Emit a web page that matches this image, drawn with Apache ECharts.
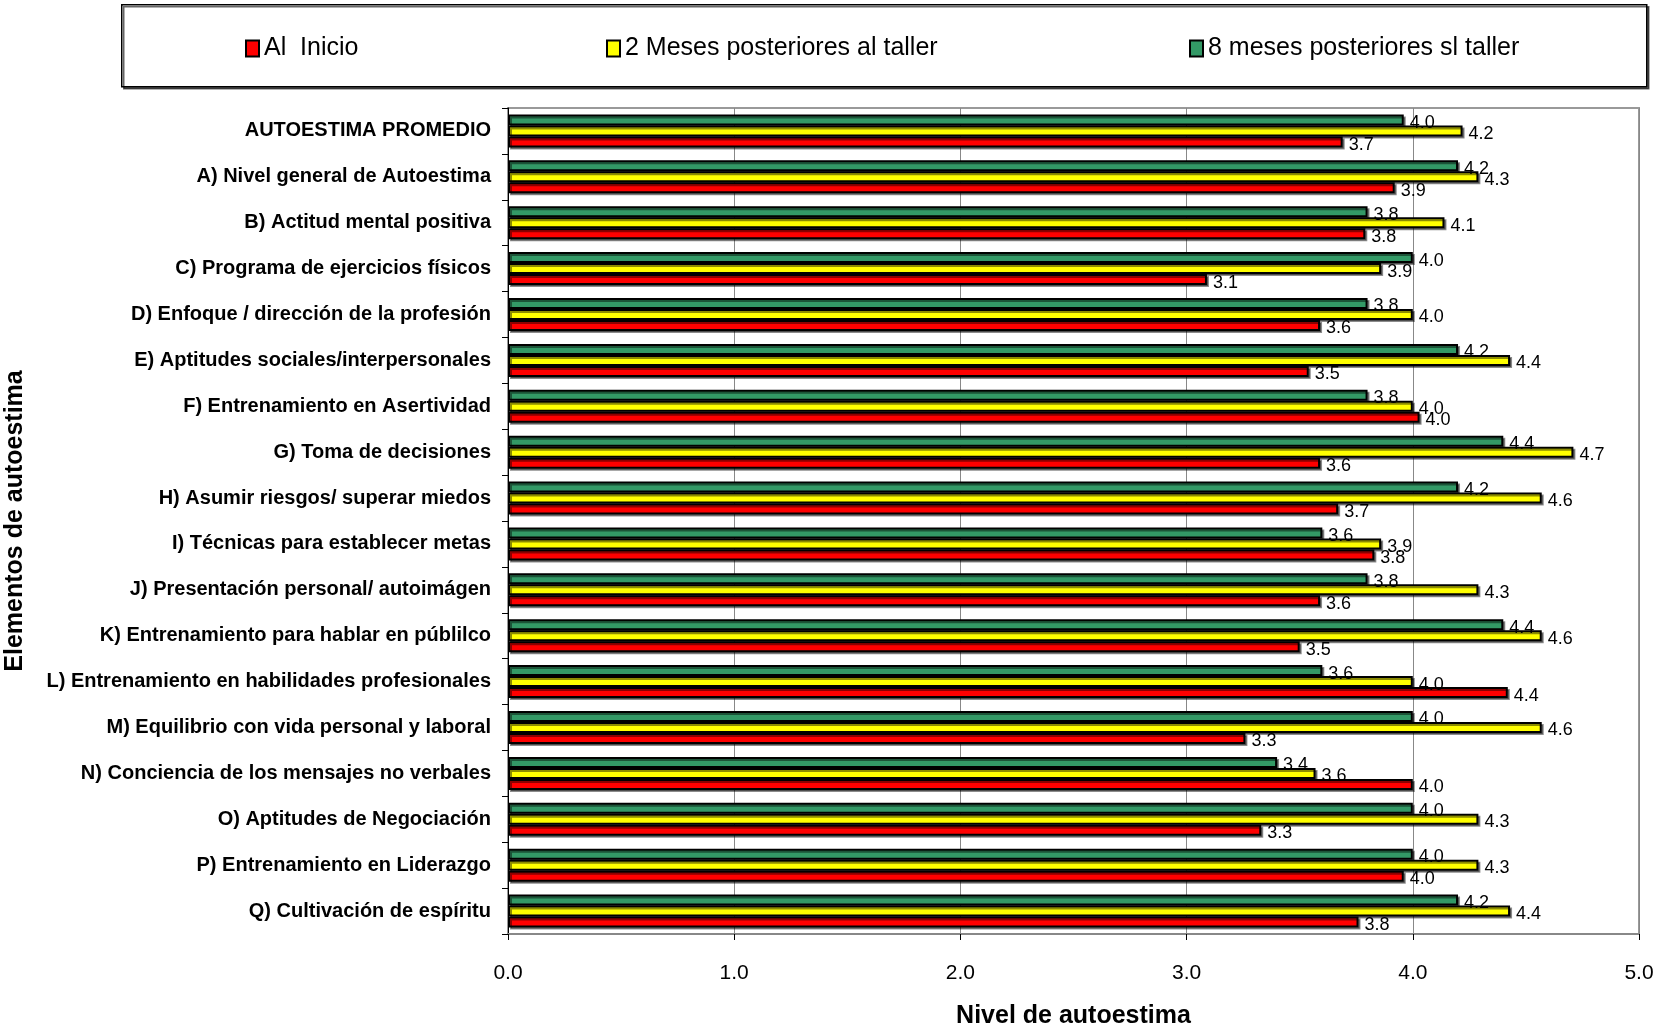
<!DOCTYPE html>
<html>
<head>
<meta charset="utf-8">
<script src="https://cdn.jsdelivr.net/npm/echarts@6/dist/echarts.min.js"></script>
<style>html,body{margin:0;padding:0;background:#fff;}#c{width:1659px;height:1029px;}</style>
</head>
<body>
<div id="c"></div>
<script>
const categories = [
  'AUTOESTIMA PROMEDIO',
  'A) Nivel general de Autoestima',
  'B) Actitud mental positiva',
  'C) Programa de ejercicios físicos',
  'D) Enfoque / dirección de la profesión',
  'E) Aptitudes sociales/interpersonales',
  'F) Entrenamiento en Asertividad',
  'G) Toma de decisiones',
  'H) Asumir riesgos/ superar miedos',
  'I) Técnicas para establecer metas',
  'J) Presentación personal/ autoimágen',
  'K) Entrenamiento para hablar en públilco',
  'L) Entrenamiento en habilidades profesionales',
  'M) Equilibrio con vida personal y laboral',
  'N) Conciencia de los mensajes no verbales',
  'O) Aptitudes de Negociación',
  'P) Entrenamiento en Liderazgo',
  'Q) Cultivación de espíritu'
];
const seriesNames = ['Al  Inicio', '2 Meses posteriores al taller', '8 meses posteriores sl taller'];
const alInicio  = [3.69, 3.92, 3.79, 3.09, 3.59, 3.54, 4.03, 3.59, 3.67, 3.83, 3.59, 3.50, 4.42, 3.26, 4.00, 3.33, 3.96, 3.76];
const dosMeses  = [4.22, 4.29, 4.14, 3.86, 4.00, 4.43, 4.00, 4.71, 4.57, 3.86, 4.29, 4.57, 4.00, 4.57, 3.57, 4.29, 4.29, 4.43];
const ochoMeses = [3.96, 4.20, 3.80, 4.00, 3.80, 4.20, 3.80, 4.40, 4.20, 3.60, 3.80, 4.40, 3.60, 4.00, 3.40, 4.00, 4.00, 4.20];
const xTicks = [0, 1, 2, 3, 4, 5];

const FONT = 'Arial, "Liberation Sans", sans-serif';
const chart = echarts.init(document.getElementById('c'), null, {renderer: 'canvas'});

function barSeries(name, data, color) {
  return {
    name: name,
    type: 'bar',
    data: data,
    barWidth: 11,
    barGap: '0%',
    itemStyle: {
      color: color,
      borderColor: '#000',
      borderWidth: 2,
      shadowColor: 'rgba(0,0,0,0.45)',
      shadowOffsetX: 2,
      shadowOffsetY: 2,
      shadowBlur: 0
    },
    label: {
      show: true,
      position: 'right',
      distance: 6,
      offset: [0, 3],
      color: '#000',
      fontFamily: FONT,
      fontSize: 18,
      formatter: p => p.value.toFixed(1)
    },
    emphasis: {disabled: true},
    animation: false
  };
}

function legendItem(name, left) {
  return {
    data: [name],
    left: left,
    top: 31,
    itemWidth: 13,
    itemHeight: 16,
    itemGap: 0,
    icon: 'rect',
    textStyle: {fontFamily: FONT, fontSize: 25, color: '#000'},
    selectedMode: false
  };
}

const option = {
  backgroundColor: '#fff',
  animation: false,
  graphic: [{
    type: 'rect',
    left: 121, top: 4,
    shape: {width: 1525, height: 82},
    style: {fill: '#fff', stroke: '#000', lineWidth: 1.5, shadowColor: 'rgba(0,0,0,0.6)', shadowOffsetX: 2, shadowOffsetY: 2, shadowBlur: 0},
    z: -10
  }],
  legend: [
    legendItem(seriesNames[0], 240),
    legendItem(seriesNames[1], 601),
    legendItem(seriesNames[2], 1184)
  ],
  grid: {left: 508, right: 20, top: 108, bottom: 95, show: true, borderColor: '#999', borderWidth: 2, backgroundColor: 'transparent', containLabel: false, outerBoundsMode: 'none'},
  xAxis: {
    type: 'value',
    min: xTicks[0],
    max: xTicks[xTicks.length - 1],
    interval: 1,
    name: 'Nivel de autoestima',
    nameLocation: 'middle',
    nameGap: 70,
    nameTextStyle: {fontFamily: FONT, fontSize: 25, fontWeight: 'bold', color: '#000'},
    axisLine: {show: true, lineStyle: {color: '#888', width: 2}},
    axisTick: {show: true, length: 6, lineStyle: {color: '#000'}},
    axisLabel: {fontFamily: FONT, fontSize: 21, color: '#000', margin: 29, formatter: v => v.toFixed(1)},
    splitLine: {show: true, lineStyle: {color: '#888', width: 1}}
  },
  yAxis: {
    type: 'category',
    data: categories,
    inverse: true,
    name: 'Elementos de autoestima',
    nameLocation: 'middle',
    nameGap: 480,
    nameRotate: 90,
    nameTextStyle: {fontFamily: FONT, fontSize: 25, fontWeight: 'bold', color: '#000'},
    axisLine: {show: true, lineStyle: {color: '#000', width: 1}},
    axisTick: {show: true, length: 6, lineStyle: {color: '#000'}},
    axisLabel: {fontFamily: FONT, fontSize: 20, fontWeight: 'bold', color: '#000', margin: 17, padding: [10, 0, 0, 0]}
  },
  series: [
    barSeries(seriesNames[2], ochoMeses, '#339966'),
    barSeries(seriesNames[1], dosMeses, '#FFFF00'),
    barSeries(seriesNames[0], alInicio, '#FF0000')
  ]
};
chart.setOption(option);
</script>
</body>
</html>
